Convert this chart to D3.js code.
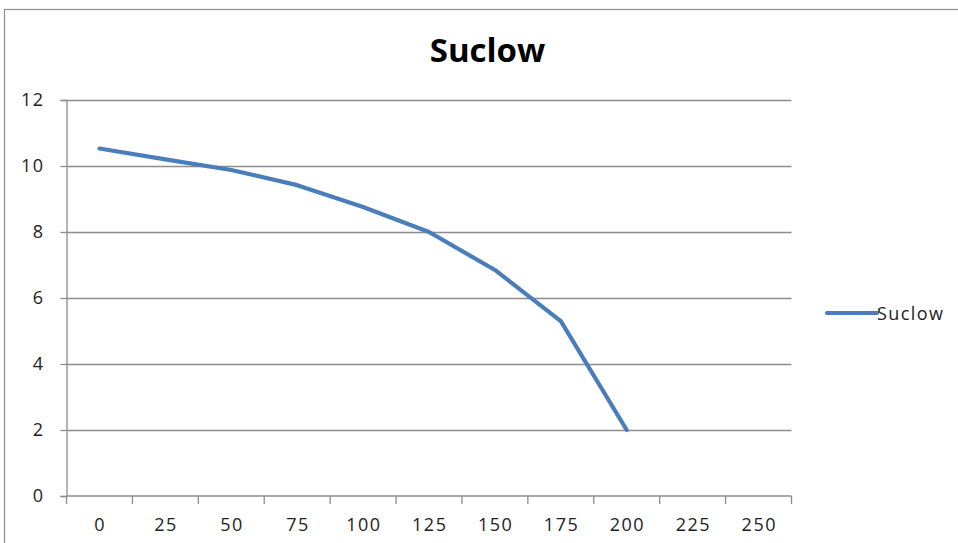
<!DOCTYPE html>
<html><head><meta charset="utf-8">
<script src="https://cdn.jsdelivr.net/npm/d3@7"></script>
<style>body{margin:0;background:#fff}svg{display:block}</style>
</head><body>
<svg id="c" width="958" height="543"></svg>
<script>
const categories = [0,25,50,75,100,125,150,175,200,225,250];
const seriesName = "Suclow";
const values = [10.53, 10.2, 9.88, 9.42, 8.76, 8.0, 6.85, 5.3, 2.0];
const yTicks = [0,2,4,6,8,10,12];

const svg = d3.select("#c");
const L = 66.5, R = 791.5, T = 100, B = 496;
const x = d3.scaleBand().domain(categories).range([L, R]);
const y = d3.scaleLinear().domain([0, 12]).range([B, T]);
const font = "'Open Sans', 'Noto Sans', sans-serif";

// chart border
svg.append("rect").attr("x",4.5).attr("y",9.5).attr("width",980).attr("height",560)
  .attr("fill","none").attr("stroke","#8c8c8c").attr("stroke-width",1.2);

// title
svg.append("text").attr("x",487.5).attr("y",62).attr("text-anchor","middle")
  .attr("font-family",font).attr("font-weight","bold")
  .attr("font-size",33).attr("fill","#000").text(seriesName);

// gridlines
svg.append("g").selectAll("line").data(yTicks.filter(d=>d>0)).join("line")
  .attr("x1",L).attr("x2",R).attr("y1",d=>Math.round(y(d))+0.5).attr("y2",d=>Math.round(y(d))+0.5)
  .attr("stroke","#8c8c8c").attr("stroke-width",1.3);

// y axis
const ya = svg.append("g").attr("transform",`translate(${L},0)`)
  .call(d3.axisLeft(y).tickValues(yTicks).tickSize(6).tickPadding(16));
ya.select(".domain").attr("stroke","#8c8c8c").attr("stroke-width",1.3);
ya.selectAll(".tick line").attr("stroke","#8c8c8c").attr("stroke-width",1.3);
ya.selectAll("text").attr("font-family",font).attr("font-size",18).attr("letter-spacing","1.5px").attr("fill","#222");

// x axis (ticks at band boundaries)
const xa = svg.append("g").attr("transform",`translate(0,${B})`);
xa.append("line").attr("x1",L).attr("x2",R).attr("stroke","#8c8c8c").attr("stroke-width",1.3);
const bounds = categories.map(c => x(c)).concat([x(categories[categories.length-1]) + x.bandwidth()]);
xa.selectAll("line.t").data(bounds).join("line").attr("class","t")
  .attr("x1",d=>d).attr("x2",d=>d).attr("y1",0).attr("y2",8)
  .attr("stroke","#8c8c8c").attr("stroke-width",1.3);
xa.selectAll("text").data(categories).join("text")
  .attr("x",d=>x(d)+x.bandwidth()/2+0.75).attr("y",35).attr("text-anchor","middle")
  .attr("font-family",font).attr("font-size",18).attr("letter-spacing","1.5px").attr("fill","#222").text(d=>d);

// series line
const line = d3.line().x((d,i)=>x(categories[i])+x.bandwidth()/2).y(d=>y(d));
svg.append("path").datum(values).attr("d",line).attr("fill","none")
  .attr("stroke","#4a7ebb").attr("stroke-width",4.2).attr("stroke-linejoin","round").attr("stroke-linecap","round");

// legend
svg.append("line").attr("x1",827).attr("x2",877).attr("y1",313).attr("y2",313)
  .attr("stroke","#4a7ebb").attr("stroke-width",4.2).attr("stroke-linecap","round");
svg.append("text").attr("x",877).attr("y",320).attr("font-family",font).attr("font-size",18)
  .attr("letter-spacing","1.4px").attr("fill","#222").text(seriesName);
</script>
</body></html>
